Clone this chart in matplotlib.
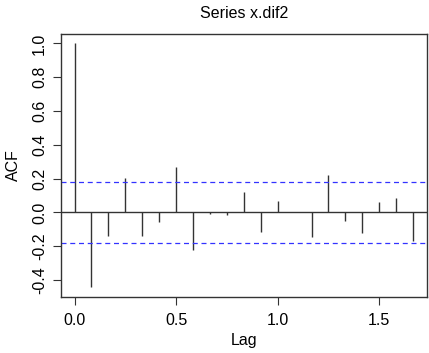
import matplotlib
matplotlib.use("Agg")
import matplotlib.pyplot as plt
import numpy as np

plt.rcParams['font.family'] = ['Liberation Sans', 'DejaVu Sans']

lags = [i / 12 for i in range(21)]
acf = [1.0, -0.441, -0.138, 0.203, -0.138, -0.059, 0.266, -0.220, -0.010,
       -0.016, 0.120, -0.116, 0.065, 0.004, -0.146, 0.222, -0.053, -0.122,
       0.061, 0.085, -0.171]
ci = 0.179
xticks = [0.0, 0.5, 1.0, 1.5]
yticks = [-0.4, -0.2, 0.0, 0.2, 0.4, 0.6, 0.8, 1.0]

fig = plt.figure(figsize=(4.29, 3.53), dpi=100)
ax = fig.add_axes([0.1422, 0.1595, 0.9946 - 0.1422, 0.9045 - 0.1595])

ax.vlines(lags, 0, acf, color='#333333', linewidth=1.0)
ax.axhline(0, color='#333333', linewidth=1.0)
ax.axhline(ci, color='#3333ff', linestyle=(0, (4, 3)), linewidth=0.9)
ax.axhline(-ci, color='#3333ff', linestyle=(0, (4, 3)), linewidth=0.9)

xmin, xmax = min(lags), max(lags)
span = xmax - xmin
ax.set_xlim(xmin - 0.04 * span, xmax + 0.04 * span)
ymin, ymax = min(acf), max(acf)
yspan = ymax - ymin
ax.set_ylim(ymin - 0.04 * yspan, ymax + 0.04 * yspan)

ax.set_xticks(xticks)
ax.set_xticklabels([f"{v:.1f}" for v in xticks])
ax.set_yticks(yticks)
ax.set_yticklabels([f"{v:.1f}" for v in yticks], rotation=90, va='center')
ax.tick_params(axis='both', direction='out', length=6, width=0.8, color='#333333', labelsize=11.5, pad=4)
ax.tick_params(axis='x', pad=6)
for s in ax.spines.values():
    s.set_color('#333333')
    s.set_linewidth(1.0)

ax.set_xlabel("Lag", fontsize=11.5, labelpad=3)
ax.set_ylabel("ACF", fontsize=11.5, labelpad=8)
fig.text(0.569, 0.963, "Series x.dif2", ha='center', va='center', fontsize=11.5)

fig.savefig("out.png", dpi=100)
